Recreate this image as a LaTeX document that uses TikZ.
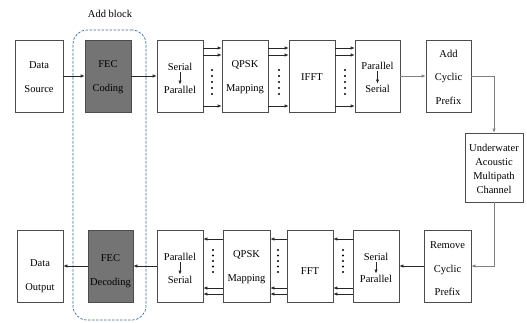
\documentclass[tikz,border=0pt]{standalone}
\usepackage{fontspec}
\setmainfont{Liberation Serif}
\usetikzlibrary{arrows.meta}
\definecolor{dashblue}{HTML}{3D6A9A}
\definecolor{fecgray}{HTML}{747474}
\begin{document}
\begin{tikzpicture}[x=1pt,y=-1pt,
  blk/.style={draw=black!70, line width=0.6pt, minimum height=72pt, inner sep=0pt},
  txt/.style={align=center, font=\fontsize{10.5}{23.5}\selectfont, inner sep=0pt, text=black},
  stxt/.style={font=\fontsize{10.5}{12}\selectfont, inner sep=1.5pt},
  arr/.style={-{Latex[length=4pt,width=3.2pt]}, line width=0.6pt, draw=black!85},
  garr/.style={arr, draw=black!50},
  dotcol/.style={fill=black}
]
\useasboundingbox (0,0) rectangle (527,322);

% dashed add block
\node[draw=dashblue, dashed, dash pattern=on 2.5pt off 1.5pt, line width=0.7pt, rounded corners=14pt,
  minimum width=73pt, minimum height=290pt, inner sep=0pt] (addblk) at (109.5,175) {};
\node[font=\fontsize{10.5}{12}\selectfont, inner sep=0pt] (addlbl) at (110,14) {Add block};

% ---------- top row ----------
\node[blk, minimum width=48pt] (src) at (39,76) {};
\node[txt] (srct) at (39,77) {Data\\Source};
\node[blk, minimum width=46pt, fill=fecgray] (fec) at (108,76) {};
\node[txt] (fect) at (108,77) {FEC\\Coding};
\node[blk, minimum width=46pt] (sp1) at (180,76) {};
\node[stxt] (sp1a) at (180,67) {Serial};
\node[stxt] (sp1b) at (180,90) {Parallel};
\node[blk, minimum width=46pt] (qp1) at (245,76) {};
\node[txt] (qp1t) at (245,77) {QPSK\\Mapping};
\node[blk, minimum width=46pt] (ifft) at (312,76) {};
\node[txt] (ifftt) at (312,77) {IFFT};
\node[blk, minimum width=45pt] (ps1) at (377.5,76) {};
\node[stxt] (ps1a) at (377.5,66) {Parallel};
\node[stxt] (ps1b) at (377.5,89) {Serial};
\node[blk, minimum width=45pt] (acp) at (448.5,76) {};
\node[txt] (acpt) at (448.5,77) {Add\\Cyclic\\Prefix};

% channel
\node[blk, minimum width=58pt, minimum height=69pt] (chan) at (494,167.5) {};
\node[align=center, font=\fontsize{10.5}{14}\selectfont, inner sep=0pt] (chant) at (494,169) {Underwater\\Acoustic\\Multipath\\Channel};

% ---------- bottom row ----------
\node[blk, minimum width=46pt] (dout) at (40,266) {};
\node[txt] (doutt) at (40,276) {Data\\Output};
\node[blk, minimum width=45pt, fill=fecgray] (fecd) at (110.5,266) {};
\node[txt] (fecdt) at (110.5,271) {FEC\\Decoding};
\node[blk, minimum width=46pt] (ps2) at (180,266) {};
\node[stxt] (ps2a) at (180,257) {Parallel};
\node[stxt] (ps2b) at (180,280) {Serial};
\node[blk, minimum width=47pt] (qp2) at (246.5,266) {};
\node[txt] (qp2t) at (246.5,267) {QPSK\\Mapping};
\node[blk, minimum width=46pt] (fft) at (310,266) {};
\node[txt] (fftt) at (310,271) {FFT};
\node[blk, minimum width=46pt] (sp2) at (376,266) {};
\node[stxt] (sp2a) at (376,257) {Serial};
\node[stxt] (sp2b) at (376,279) {Parallel};
\node[blk, minimum width=47pt] (rcp) at (447.5,266) {};
\node[txt] (rcpt) at (447.5,269) {Remove\\Cyclic\\Prefix};

% small inner arrows
\draw[arr] (sp1a.south) -- (sp1b.north);
\draw[arr] (ps1a.south) -- (ps1b.north);
\draw[arr] (ps2a.south) -- (ps2b.north);
\draw[arr] (sp2a.south) -- (sp2b.north);

% top connectors
\draw[arr] (src.east) -- (fec.west);
\draw[arr] (fec.east) -- (sp1.west);
\foreach \a/\b in {sp1/qp1, qp1/ifft, ifft/ps1}{
  \draw[arr] (\a.east |- 0,48) -- (\b.west |- 0,48);
  \draw[arr] (\a.east |- 0,55) -- (\b.west |- 0,55);
  \draw[arr] (\a.east |- 0,106) -- (\b.west |- 0,106);
}
\foreach \x in {212,279,345}{
  \foreach \y in {70,76,82,88,94} \fill[dotcol] (\x,\y) circle (1.1pt);
}
\draw[garr] (ps1.east) -- (acp.west);
\draw[garr] (acp.east) -| (chan.north);
\draw[garr] (chan.south) |- (rcp.east);

% bottom connectors
\draw[arr] (rcp.west) -- (sp2.east);
\foreach \a/\b in {sp2/fft, fft/qp2, qp2/ps2}{
  \draw[arr] (\a.west |- 0,239) -- (\b.east |- 0,239);
  \draw[arr] (\a.west |- 0,288) -- (\b.east |- 0,288);
  \draw[arr] (\a.west |- 0,294) -- (\b.east |- 0,294);
}
\foreach \x in {213,278,343}{
  \foreach \y in {250,255.5,261,266.5,272} \fill[dotcol] (\x,\y) circle (1.1pt);
}
\draw[arr] (ps2.west) -- (fecd.east);
\draw[arr] (fecd.west) -- (dout.east);
\end{tikzpicture}
\end{document}
